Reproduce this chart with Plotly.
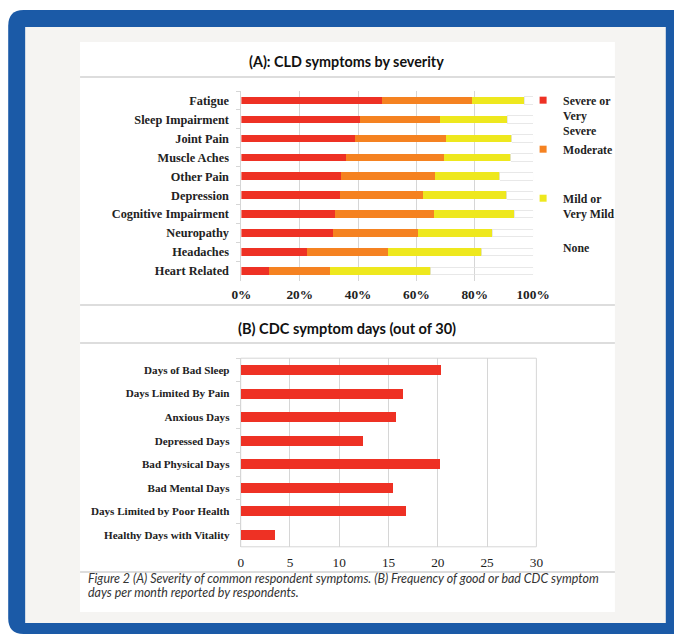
import plotly.graph_objects as go

W, H = 674, 636
# horizontal placement helper (calibrated to the rendered page)
def px(x): return ((x - 9.8) / 0.962) / W
def py(y): return 1 - y / H

# ---------------- Data ----------------
symptoms = ["Fatigue", "Sleep Impairment", "Joint Pain", "Muscle Aches", "Other Pain",
            "Depression", "Cognitive Impairment", "Neuropathy", "Headaches", "Heart Related"]
severe = [48.1, 40.6, 38.9, 36.0, 34.3, 33.8, 32.2, 31.5, 22.5, 9.4]
moderate = [30.9, 27.4, 31.3, 33.5, 32.0, 28.3, 34.0, 29.1, 27.8, 21.0]
mild = [18.0, 23.2, 22.5, 22.8, 22.2, 28.9, 27.3, 25.4, 32.1, 34.6]
none = [3.0, 8.8, 7.3, 7.7, 11.5, 9.0, 6.5, 14.0, 17.6, 35.0]
pct_ticks = [0, 20, 40, 60, 80, 100]
pct_labels = ["0%", "20%", "40%", "60%", "80%", "100%"]

cdc_days = ["Days of Bad Sleep", "Days Limited By Pain", "Anxious Days", "Depressed Days",
            "Bad Physical Days", "Bad Mental Days", "Days Limited by Poor Health",
            "Healthy Days with Vitality"]
cdc_values = [20.3, 16.5, 15.8, 12.4, 20.2, 15.5, 16.8, 3.5]
day_ticks = [0, 5, 10, 15, 20, 25, 30]

series = [
    ("Severe or<br>Very<br>Severe", severe, "#EE3124"),
    ("Moderate<br>\u00a0<br>\u00a0", moderate, "#F58221"),
    ("Mild or<br>Very Mild<br>\u00a0", mild, "#EEE81E"),
    ("None<br>\u00a0<br>\u00a0", none, "rgba(255,255,255,0)"),
]

RED = "#EE3124"
BLUE = "#1B5AA7"
PANEL = "#F5F4F2"
SERIF = "Liberation Serif"
SANS = "Lato"

fig = go.Figure()

for i, (name, vals, col) in enumerate(series):
    is_none = i == 3
    fig.add_trace(go.Bar(
        y=symptoms, x=vals, orientation="h", xaxis="x", yaxis="y",
        width=0.4, legendgroup=f"g{i}", showlegend=False, name=name,
        marker=dict(color=col,
                    line=dict(color="#e2e2e2" if is_none else col, width=0.8 if is_none else 0)),
    ))
    fig.add_trace(go.Scatter(
        x=[None], y=[None], mode="markers", xaxis="x", yaxis="y",
        legendgroup=f"g{i}", name=name, showlegend=True,
        marker=dict(symbol="square", size=7,
                    color="white" if is_none else col, line=dict(width=0)),
    ))

fig.add_trace(go.Bar(
    y=cdc_days, x=cdc_values, orientation="h", xaxis="x2", yaxis="y2",
    width=0.42, showlegend=False, marker=dict(color=RED, line=dict(width=0)),
))

axis_grey = "#d6d6d6"
fig.update_layout(
    width=W, height=H, margin=dict(l=0, r=0, t=0, b=0),
    paper_bgcolor="white", plot_bgcolor="rgba(0,0,0,0)",
    barmode="stack",
    showlegend=True,
    legend=dict(x=px(524), y=py(86), xanchor="left", yanchor="top",
                bgcolor="rgba(0,0,0,0)", valign="top", itemwidth=30,
                font=dict(family=SERIF, size=11.8, color="#222", weight="bold"),
                traceorder="normal", tracegroupgap=0),
    xaxis=dict(domain=[px(241.7), px(534)], range=[0, 100], tickvals=pct_ticks,
               ticktext=pct_labels, showgrid=True, gridcolor=axis_grey, gridwidth=1,
               zeroline=False, showline=False, ticks="", ticklabelstandoff=4,
               tickfont=dict(family=SERIF, size=13.3, color="#222", weight="bold"),
               anchor="y", fixedrange=True),
    yaxis=dict(domain=[py(280.5), py(91)], categoryorder="array", categoryarray=symptoms,
               autorange="reversed", showgrid=False, showline=True, linecolor=axis_grey,
               ticks="outside", tickson="boundaries", ticklen=4, tickcolor=axis_grey,
               ticklabelstandoff=9,
               tickfont=dict(family=SERIF, size=12.3, color="#222", weight="bold"),
               anchor="x", fixedrange=True),
    xaxis2=dict(domain=[px(241), px(537.3)], range=[0, 30], tickvals=day_ticks,
                showgrid=True, gridcolor=axis_grey, gridwidth=1, zeroline=False,
                showline=False, ticks="", ticklabelstandoff=6,
                tickfont=dict(family=SERIF, size=13.3, color="#222"),
                anchor="y2", fixedrange=True),
    yaxis2=dict(domain=[py(546.8), py(358.2)], categoryorder="array", categoryarray=cdc_days,
                autorange="reversed", showgrid=False, showline=True, linecolor=axis_grey,
                ticks="outside", tickson="boundaries", ticklen=4, tickcolor=axis_grey,
                ticklabelstandoff=8,
                tickfont=dict(family=SERIF, size=11.1, color="#222", weight="bold"),
                anchor="x2", fixedrange=True),
)

shapes = []
# blue frame with rounded corners
x0, x1, y0, y1, r = px(8), px(760), py(10), py(634), 16
rx, ry = r / W, r / H
path = (f"M{x0+rx},{y0} L{x1},{y0} L{x1},{y1} L{x0+rx},{y1} "
        f"Q{x0},{y1} {x0},{y1+ry} L{x0},{y0-ry} Q{x0},{y0} {x0+rx},{y0} Z")
shapes.append(dict(type="path", path=path, xref="paper", yref="paper",
                   fillcolor=BLUE, line=dict(width=0), layer="below"))
shapes.append(dict(type="rect", xref="paper", yref="paper", x0=px(25), x1=px(667),
                   y0=py(623), y1=py(27), fillcolor=PANEL, line=dict(width=0), layer="below"))
shapes.append(dict(type="rect", xref="paper", yref="paper", x0=px(80), x1=px(616),
                   y0=py(612), y1=py(42), fillcolor="white", line=dict(width=0), layer="below"))
for yy in [77, 305, 343, 572]:
    shapes.append(dict(type="line", xref="paper", yref="paper", x0=px(80), x1=px(616),
                       y0=py(yy), y1=py(yy), line=dict(color="#d2d2d2", width=1.5), layer="below"))
# box around plot B
shapes.append(dict(type="rect", xref="x2 domain", yref="y2 domain", x0=0, x1=1, y0=0, y1=1,
                   line=dict(color=axis_grey, width=1), fillcolor="rgba(0,0,0,0)", layer="below"))
fig.update_layout(shapes=shapes)

ann = [
    dict(text="<b>(A): CLD symptoms by severity</b>", x=px(347.5), y=py(62),
         font=dict(family=SANS, size=14.35, color="#111")),
    dict(text="<b>(B) CDC symptom days (out of 30)</b>", x=px(347.5), y=py(328),
         font=dict(family=SANS, size=14.55, color="#111")),
    dict(text="Figure 2 (A) Severity of common respondent symptoms. (B) Frequency of good or bad CDC symptom",
         x=px(85.5), y=py(578), xanchor="left",
         font=dict(family=SANS, size=12.45, color="#333", style="italic")),
    dict(text="days per month reported by respondents.",
         x=px(85.5), y=py(592), xanchor="left",
         font=dict(family=SANS, size=12.45, color="#333", style="italic")),
]
for a in ann:
    a.setdefault("xanchor", "center")
    a.update(xref="paper", yref="paper", yanchor="middle", showarrow=False)
fig.update_layout(annotations=ann)

fig.write_html(
    "out.html",
    post_script=(
        "document.body.style.background='linear-gradient(90deg,#ffffff 0,#ffffff 50%,"
        "#F5F4F2 50%,#F5F4F2 calc(100% - 6px),#1B5AA7 calc(100% - 6px))';"
    ),
)
